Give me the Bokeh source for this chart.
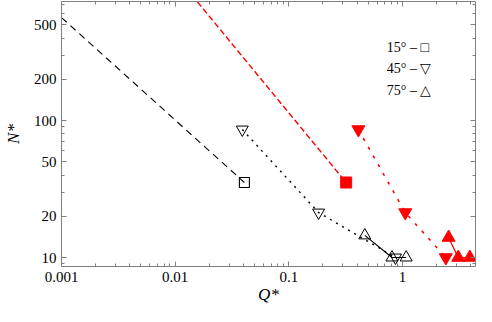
from bokeh.plotting import figure
from bokeh.models import LogAxis, FixedTicker, CustomJSTickFormatter, Label
from bokeh.embed import file_html
from bokeh.resources import INLINE

# ---- data ----
x_major = [0.001, 0.01, 0.1, 1]
x_minor = [m * d for d in (0.001, 0.01, 0.1, 1) for m in range(2, 10)]
y_major = [10, 20, 50, 100, 200, 500]
y_minor = [m * d for d in (1, 10, 100) for m in range(2, 10)]

# black, open markers
fit15_q = [0.001, 0.0407]
fit15_n = [565, 35.3]
b15_q = [0.0407]
b15_n = [35.3]
b45_q = [0.039, 0.183, 0.87]
b45_n = [86, 21.3, 10]
b75_q = [0.467, 0.81, 1.08]
b75_n = [14.5, 10, 10]

# red, filled markers
rfit15_q = [0.0157, 0.32]
rfit15_n = [736, 35.3]
r15_q = [0.32]
r15_n = [35.3]
r45_q = [0.41, 1.06, 2.41]
r45_n = [86, 21.3, 10]
r75_q = [2.55, 3.1, 3.92]
r75_n = [14, 10, 10]

legend_rows = ["15\u00b0 \u2013 \u25a1", "45\u00b0 \u2013 \u25bd", "75\u00b0 \u2013 \u25b3"]

SERIF = "'Liberation Serif', 'Times New Roman', serif"
GRAY = "#808080"
RED = "#ff0000"

p = figure(width=476, height=306, x_axis_type="log", y_axis_type="log",
           x_range=(0.001, 4.4), y_range=(8.6, 740),
           output_backend="svg", toolbar_location=None,
           min_border_left=54, min_border_right=1, min_border_top=1, min_border_bottom=40)
p.grid.visible = False
p.outline_line_color = None
p.background_fill_color = "white"

xt = FixedTicker(ticks=x_major, minor_ticks=x_minor)
yt = FixedTicker(ticks=y_major, minor_ticks=y_minor)
fmt = CustomJSTickFormatter(code="return String(Number(tick.toPrecision(6)));")
blank = CustomJSTickFormatter(code="return '';")

def style(ax):
    ax.axis_line_color = GRAY
    ax.major_tick_line_color = GRAY
    ax.minor_tick_line_color = GRAY
    ax.major_tick_in = 5
    ax.major_tick_out = 0
    ax.minor_tick_in = 3
    ax.minor_tick_out = 0
    ax.major_label_text_font = SERIF
    ax.major_label_text_font_size = "15px"
    ax.major_label_text_color = "black"

xa = p.xaxis[0]
ya = p.yaxis[0]
xa.ticker = xt
ya.ticker = yt
xa.formatter = fmt
ya.formatter = fmt
style(xa)
style(ya)
xa.major_label_standoff = 5
ya.major_label_standoff = 5
xa.axis_label = "Q*"
ya.axis_label = "N*"
for ax in (xa, ya):
    ax.axis_label_text_font = SERIF
    ax.axis_label_text_font_style = "italic"
    ax.axis_label_text_font_size = "17px"
    ax.axis_label_text_color = "black"
xa.axis_label_standoff = 0
ya.axis_label_standoff = 8

top = LogAxis(ticker=xt, formatter=blank)
right = LogAxis(ticker=yt, formatter=blank)
for ax in (top, right):
    style(ax)
    ax.major_label_standoff = 0
p.add_layout(top, "above")
p.add_layout(right, "right")

# black series
p.line(fit15_q, fit15_n, line_color="black", line_width=1.1, line_dash="7 5")
p.line(b45_q, b45_n, line_color="black", line_width=1.4, line_dash="2 5")
p.line(b75_q, b75_n, line_color="black", line_width=1.1)
p.scatter(b15_q, b15_n, marker="square", size=10, line_color="black", fill_color=None, line_width=1.1)
p.scatter(b45_q, b45_n, marker="inverted_triangle", size=12, line_color="black", fill_color=None, line_width=1.0)
p.scatter(b75_q, b75_n, marker="triangle", size=12, line_color="black", fill_color=None, line_width=1.0)

# red series
p.line(rfit15_q, rfit15_n, line_color=RED, line_width=1.4, line_dash="6 3")
p.line(r45_q, r45_n, line_color=RED, line_width=1.6, line_dash="3 7")
p.line(r75_q, r75_n, line_color=RED, line_width=1.3)
p.scatter(r15_q, r15_n, marker="square", size=11, line_color=RED, fill_color=RED)
p.scatter(r45_q, r45_n, marker="inverted_triangle", size=13, line_color=RED, fill_color=RED)
p.scatter(r75_q, r75_n, marker="triangle", size=13, line_color=RED, fill_color=RED)

# legend text
for txt, yv in zip(legend_rows, [341, 240, 166]):
    p.add_layout(Label(x=0.73, y=yv, text=txt, text_font=SERIF, text_font_size="14px",
                       text_baseline="middle", text_align="left", text_color="black"))

open("out.html", "w").write(file_html(p, INLINE))
